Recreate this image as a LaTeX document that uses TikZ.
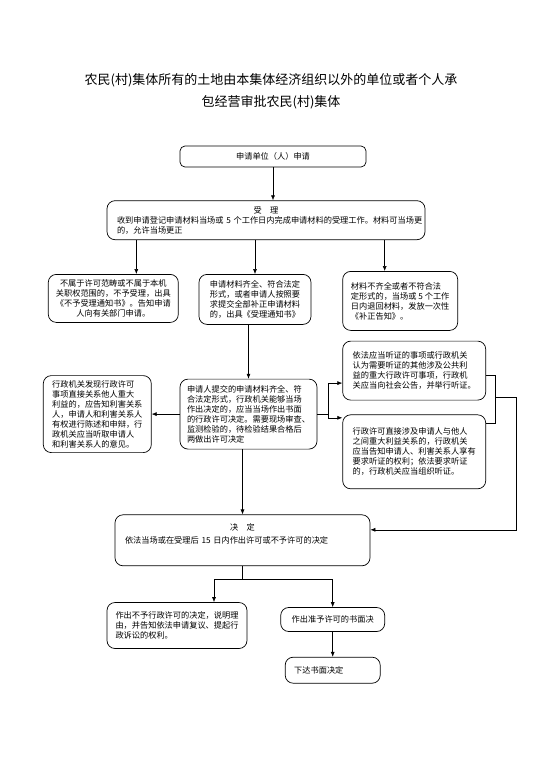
\documentclass[tikz,border=0pt]{standalone}
\usepackage{fontspec}
\setmainfont{Noto Sans CJK SC}
\usetikzlibrary{arrows.meta,positioning,calc}

\begin{document}
\begin{tikzpicture}[x=1pt, y=1pt,
  block/.style={rounded corners=8pt, draw=black, line width=0.7pt, align=left, inner xsep=0pt, font=\fontsize{8.2}{10}\selectfont},
  cblock/.style={block, align=center},
  tblock/.style={block, inner xsep=10pt},
  arrow/.style={-{Latex[length=5pt,width=4pt]}, line width=0.6pt},
  wire/.style={line width=0.6pt}
]
\useasboundingbox (0,0) rectangle (542,-768);

\node[align=center, font=\fontsize{13}{22}\selectfont] (title) at (271,-91) {农民(村)集体所有的土地由本集体经济组织以外的单位或者个人承\\包经营审批农民(村)集体};

\node[cblock, minimum width=186pt, minimum height=21pt, rounded corners=5pt] (apply) at (273,-156.5) {申请单位（人）申请};
\node[tblock, text width=298pt, minimum height=39pt, below=33pt of apply, xshift=-7pt] (accept) {{\centering 受\quad 理\par}\mbox{收到申请登记申请材料当场或~5~个工作日内完成申请材料的受理工作。材料可当场更}\\的，允许当场更正};

\node[block, minimum width=112pt, minimum height=50pt, below=34pt of accept, xshift=-11pt] (admit) {申请材料齐全、符合法定\\形式，或者申请人按照要\\求提交全部补正申请材料\\的，出具《受理通知书》};
\node[cblock, minimum width=130pt, minimum height=48pt, left=20pt of admit.north west, anchor=north east] (reject) {不属于许可范畴或不属于本机\\关职权范围的，不予受理，出具\\《不予受理通知书》。告知申请\\人向有关部门申请。};
\node[block, minimum width=115pt, minimum height=59pt, right=31pt of admit.north east, anchor=north west, yshift=3pt] (supply) {材料不齐全或者不符合法\\定形式的，当场或~5~个工作\\日内退回材料，发放一次性\\《补正告知》。};

\node[block, minimum width=137pt, minimum height=70pt, below=54pt of admit, xshift=-6.5pt] (review) {申请人提交的申请材料齐全、符\\合法定形式，行政机关能够当场\\作出决定的，应当当场作出书面\\的行政许可决定。需要现场审查、\\监测检验的，待检验结果合格后\\两做出许可决定};
\node[block, minimum width=108pt, minimum height=77pt, left=28pt of review] (notify) {行政机关发现行政许可\\事项直接关系他人重大\\利益的，应告知利害关系\\人，申请人和利害关系人\\有权进行陈述和申辩，行\\政机关应当听取申请人\\和利害关系人的意见。};
\node[block, minimum width=143pt, minimum height=59pt, below=10pt of supply.south west, anchor=north west] (hearing) {依法应当听证的事项或行政机关\\认为需要听证的其他涉及公共利\\益的重大行政许可事项，行政机\\关应当向社会公告，并举行听证。};
\node[block, minimum width=143pt, minimum height=74pt, below=14pt of hearing] (notice) {行政许可直接涉及申请人与他人\\之间重大利益关系的，行政机关\\应当告知申请人、利害关系人享有\\要求听证的权利；依法要求听证\\的，行政机关应当组织听证。};

\node[tblock, text width=235pt, minimum height=51pt, text depth=27pt, below=65pt of review, xshift=-6pt] (decide) {{\centering 决\quad 定\par}\vspace{3pt}\mbox{依法当场或在受理后~15~日内作出许可或不予许可的决定}};
\node[block, minimum width=140pt, minimum height=46pt, below=36pt of decide.south west, anchor=north west, xshift=-8pt] (deny) {作出不予行政许可的决定，说明理\\由，并告知依法申请复议、提起行\\政诉讼的权利。};
\node[cblock, minimum width=104pt, minimum height=24pt, right=33pt of deny.north east, anchor=north west, yshift=-5pt] (grant) {作出准予许可的书面决};
\node[block, inner xsep=9pt, text width=77pt, minimum height=26pt, below=25pt of grant] (issue) {下达书面决定};

% connectors
\draw[arrow] (apply.south) -- (apply.south |- accept.north);
\draw[arrow] ([xshift=23pt]reject.north |- accept.south) -- ([xshift=23pt]reject.north);
\draw[arrow] (admit.north |- accept.south) -- (admit.north);
\draw[arrow] ([xshift=-15.5pt]supply.north |- accept.south) -- ([xshift=-15.5pt]supply.north);
\draw[arrow] (review.north |- admit.south) -- (review.north);
\draw[arrow] (review.west) -- (review.west -| notify.east);

\coordinate[right=11pt of review.east] (fork);
\draw[wire] (review.east) -- (fork);
\draw[arrow] (fork) |- ([yshift=-12.5pt]hearing.west);
\draw[arrow] (fork) |- ([yshift=34pt]notice.west);

\coordinate[right=9pt of hearing.east, yshift=-26.5pt] (join);
\draw[wire] ([yshift=-4.5pt]hearing.east) -| (join) |- ([yshift=29pt]notice.east);
\draw[arrow] (join) -- ++(21pt,0) |- ([yshift=10.5pt]decide.east);

\draw[arrow] (decide.north |- review.south) -- (decide.north);
\coordinate[below=13pt of decide.south] (split);
\draw[wire] (decide.south) -- (split);
\draw[arrow] (split) -| ([xshift=37pt]deny.north);
\draw[arrow] (split) -| (grant.north);
\draw[arrow] (grant.south) -- (grant.south |- issue.north);
\end{tikzpicture}
\end{document}
